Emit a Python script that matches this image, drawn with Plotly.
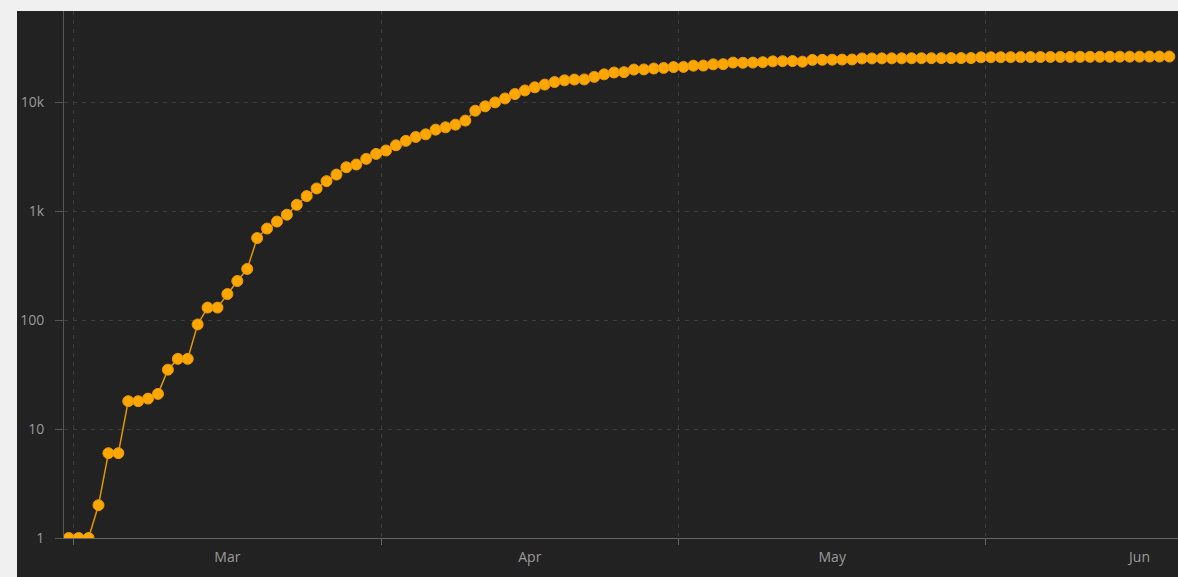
import pandas as pd
import plotly.graph_objects as go

# ---- data ----
start_date = "2020-02-29 12:00"
values = [
    1, 1, 1, 2, 6, 6, 18, 18, 19, 21,
    35, 44, 44, 91, 130, 130, 173, 228, 294, 565,
    690, 800, 925, 1140, 1370, 1610, 1880, 2160, 2520, 2670,
    3010, 3340, 3590, 4010, 4400, 4780, 5050, 5580, 5860, 6200,
    6750, 8320, 9120, 9920, 10780, 11830, 12770, 13650, 14450, 15250,
    15800, 16080, 16120, 17000, 17950, 18650, 18800, 19850, 19900, 20300,
    20550, 20900, 21000, 21550, 21600, 22150, 22250, 23000, 22900, 23000,
    23200, 23600, 23700, 23750, 23450, 24350, 24400, 24450, 24500, 24550,
    25100, 25120, 25140, 25160, 25180, 25200, 25220, 25240, 25260, 25280,
    25300, 25320, 25750, 25770, 25790, 25810, 25830, 25850, 25870, 25890,
    25910, 25930, 25950, 25970, 25990, 26010, 26030, 26050, 26070, 26090,
    26110, 26130,
]
dates = pd.date_range(start_date, periods=len(values), freq="D")
y_tickvals = [1, 10, 100, 1000, 10000]
y_ticktext = ["1", "10", "100", "1k", "10k"]
x_range = ["2020-02-29 00:30", "2020-06-20 09:00"]

# ---- style ----
W, H = 1178, 577
ML, MR, MT, MB = 64, 0, 11, 39
PW, PH = W - ML - MR, H - MT - MB
PANEL = "#222222"
OUTER = "#f0f0f0"
GRID = "#3c3c3c"
DASH = "4px,5px"
FONT = dict(family="Open Sans, Segoe UI, sans-serif", size=14, color="#9a9a9a")

fig = go.Figure()
fig.add_trace(go.Scatter(
    x=dates, y=values, mode="lines+markers",
    line=dict(color="#e09a00", width=1.5),
    marker=dict(size=11, color="#ffa600", line=dict(color="#e89a00", width=1)),
    hoverinfo="x+y", showlegend=False,
))

def px_x(p):
    return (p - ML) / PW

def px_y(p):
    return (H - MB - p) / PH

fig.update_layout(
    width=W, height=H,
    margin=dict(l=ML, r=MR, t=MT, b=MB, pad=0),
    paper_bgcolor=PANEL, plot_bgcolor=PANEL,
    font=FONT,
    shapes=[
        dict(type="rect", xref="paper", yref="paper", layer="above",
             x0=px_x(0), x1=px_x(17), y0=px_y(H), y1=px_y(0),
             fillcolor=OUTER, line=dict(width=0)),
        dict(type="rect", xref="paper", yref="paper", layer="above",
             x0=px_x(0), x1=px_x(W), y0=px_y(11), y1=px_y(0),
             fillcolor=OUTER, line=dict(width=0)),
    ],
    xaxis=dict(
        type="date", range=x_range,
        dtick="M1", tick0="2020-03-01", tickformat="%b", ticklabelmode="period",
        ticks="outside", ticklen=6, tickcolor="#666666",
        showline=True, linecolor="#666666", linewidth=1,
        showgrid=True, gridcolor=GRID, griddash=DASH, gridwidth=1,
        zeroline=False, tickfont=FONT,
    ),
    yaxis=dict(
        type="log", range=[0, 4.835],
        tickvals=y_tickvals, ticktext=y_ticktext,
        ticks="outside", ticklen=8, tickcolor="#555555",
        showline=True, linecolor="#555555", linewidth=1,
        showgrid=True, gridcolor=GRID, griddash=DASH, gridwidth=1,
        zeroline=False, tickfont=FONT, ticklabelstandoff=8,
    ),
)

fig.write_html("out.html")
